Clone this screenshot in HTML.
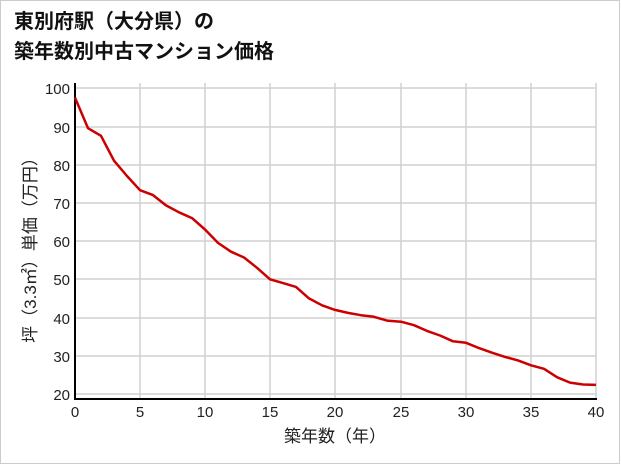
<!DOCTYPE html>
<html><head><meta charset="utf-8"><style>
body{margin:0;background:#fff}
svg{display:block;font-family:"Liberation Sans","Noto Sans CJK JP",sans-serif}
</style></head><body>
<svg width="621" height="465" viewBox="0 0 621 465">
<rect x="0.5" y="0.5" width="619" height="463" fill="#fff" stroke="#ccc"/>
<text x="14" y="28" font-size="20" font-weight="bold" fill="#111">東別府駅（大分県）の</text>
<text x="14" y="58" font-size="20" font-weight="bold" fill="#111">築年数別中古マンション価格</text>
<g stroke="#d0d0d0" stroke-width="1.5">
<line x1="75" y1="88" x2="596" y2="88"/><line x1="75" y1="127" x2="596" y2="127"/>
<line x1="75" y1="165" x2="596" y2="165"/><line x1="75" y1="203" x2="596" y2="203"/>
<line x1="75" y1="241" x2="596" y2="241"/><line x1="75" y1="279" x2="596" y2="279"/>
<line x1="75" y1="318" x2="596" y2="318"/><line x1="75" y1="356" x2="596" y2="356"/>
<line x1="75" y1="394" x2="596" y2="394"/>
<line x1="140" y1="83" x2="140" y2="399"/><line x1="205" y1="83" x2="205" y2="399"/>
<line x1="270" y1="83" x2="270" y2="399"/><line x1="335" y1="83" x2="335" y2="399"/>
<line x1="401" y1="83" x2="401" y2="399"/><line x1="466" y1="83" x2="466" y2="399"/>
<line x1="531" y1="83" x2="531" y2="399"/><line x1="596" y1="83" x2="596" y2="399"/>
</g>
<line x1="75" y1="83" x2="75" y2="400" stroke="#000" stroke-width="2"/>
<line x1="74" y1="399" x2="597" y2="399" stroke="#000" stroke-width="2"/>
<g font-size="15" fill="#222" text-anchor="end">
<text x="70" y="94">100</text><text x="70" y="133">90</text><text x="70" y="171">80</text>
<text x="70" y="209">70</text><text x="70" y="247">60</text><text x="70" y="285">50</text>
<text x="70" y="324">40</text><text x="70" y="362">30</text><text x="70" y="400">20</text>
</g>
<g font-size="15" fill="#222" text-anchor="middle">
<text x="75" y="417">0</text><text x="140" y="417">5</text><text x="205" y="417">10</text>
<text x="270" y="417">15</text><text x="335" y="417">20</text><text x="401" y="417">25</text>
<text x="466" y="417">30</text><text x="531" y="417">35</text><text x="596" y="417">40</text>
<text x="335" y="442" font-size="17">築年数（年）</text>
</g>
<text transform="translate(36,246) rotate(-90)" font-size="17" fill="#222" text-anchor="middle">坪（3.3㎡）単価（万円）</text>
<polyline fill="none" stroke="#cc0000" stroke-width="2.5" stroke-linejoin="round" points="
75,97.6 88,128.2 101,135.8 114,160.7 127,176 140,190.2 153,195.1 166,205.4 179,212.3 192,218.1 205,229.5 218,242.9 231,251.7 244,257.5 257,267.8 270,279.3 283,283.1 296,286.9 309,298.4 322,305.3 335,309.9 348,312.9 361,315.2 374,316.8 387,320.6 401,321.7 414,325.2 427,330.9 440,335.5 453,341.3 466,342.8 479,348.1 492,352.7 505,356.9 518,360.4 531,365.3 544,368.8 557,377.2 570,382.6 583,384.5 596,384.9"/>
</svg>
</body></html>
